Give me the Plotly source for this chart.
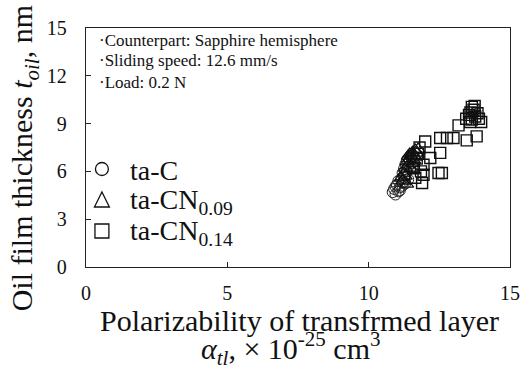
import plotly.graph_objects as go

FONT = "Liberation Serif, Times New Roman, serif"

# ta-C (circles)
tac_x = [10.85, 10.95, 11.05, 10.90, 11.10, 11.00, 11.20, 11.15, 11.05, 11.25, 11.30, 11.20,
         11.35, 11.25, 11.40, 11.30, 11.45, 11.35, 11.50, 11.10, 10.95, 11.20, 11.40, 11.30]
tac_y = [4.70, 4.55, 4.75, 4.90, 5.00, 5.15, 5.30, 5.50, 5.40, 5.60, 5.80, 5.90,
         6.00, 6.15, 6.30, 6.45, 6.60, 6.70, 6.90, 4.80, 5.05, 5.10, 5.50, 5.25]

# ta-CN0.09 (triangles)
tacn09_x = [11.15, 11.25, 11.30, 11.40, 11.35, 11.45, 11.50, 11.55, 11.60, 11.65, 11.45,
            11.60, 11.70, 11.55, 11.40, 11.75, 11.50, 11.30, 11.20, 11.35, 11.65]
tacn09_y = [5.60, 5.90, 6.20, 6.40, 6.60, 6.80, 7.00, 7.20, 7.00, 7.35, 7.10,
            6.70, 7.15, 6.50, 6.95, 7.40, 6.20, 5.70, 5.40, 5.20, 6.90]

# ta-CN0.14 (squares)
tacn14_x = [12.00, 12.53, 12.77, 13.00, 13.47, 13.82, 13.18, 13.59, 13.98, 13.71, 13.77,
            13.55, 13.65, 13.85, 13.45, 13.90, 13.60, 13.65, 13.75, 12.53, 12.18, 11.94,
            12.47, 12.59, 11.94, 11.89, 11.75, 11.80, 11.70, 11.85, 11.65, 11.60]
tacn14_y = [7.88, 8.10, 8.10, 8.10, 7.95, 8.20, 8.89, 9.10, 9.10, 9.87, 9.45,
            9.55, 9.25, 9.65, 9.30, 9.30, 9.70, 10.05, 10.10, 7.16, 6.84, 6.42,
            5.90, 5.90, 5.79, 5.27, 7.10, 7.50, 6.80, 6.00, 5.60, 6.20]

series_names = ["ta-C", "ta-CN<sub>0.09</sub>", "ta-CN<sub>0.14</sub>"]
x_ticks = [0, 5, 10, 15]
y_ticks = [0, 3, 6, 9, 12, 15]

notes = ["·Counterpart: Sapphire hemisphere", "·Sliding speed: 12.6 mm/s", "·Load: 0.2 N"]

INK = "#111111"
fig = go.Figure()
fig.add_trace(go.Scatter(x=tac_x, y=tac_y, mode="markers", name=series_names[0], showlegend=False,
                         marker=dict(symbol="circle-open", size=11, color="#222222",
                                     line=dict(width=1))))
fig.add_trace(go.Scatter(x=tacn09_x, y=tacn09_y, mode="markers", name=series_names[1], showlegend=False,
                         marker=dict(symbol="triangle-up-open", size=12, color=INK,
                                     line=dict(width=1.2))))
fig.add_trace(go.Scatter(x=tacn14_x, y=tacn14_y, mode="markers", name=series_names[2], showlegend=False,
                         marker=dict(symbol="square-open", size=11, color=INK,
                                     line=dict(width=1.4))))

W, H = 532, 369
L, R, T, B = 86, 20, 28, 102
pw = W - L - R
ph = H - T - B


def px(xp):
    return (xp - L) / pw


def py(yp):
    return (H - B - yp) / ph


for i, s in enumerate(notes):
    fig.add_annotation(text=s, xref="paper", yref="paper", x=px(97), y=py(40 + 21 * i),
                       xanchor="left", yanchor="middle", showarrow=False,
                       font=dict(family=FONT, size=17, color=INK))

# legend (manual)
leg_y = [169, 200, 231]
sx, hs = 102, 6.5
fig.add_shape(type="circle", xref="paper", yref="paper",
              x0=px(sx - hs), x1=px(sx + hs), y0=py(leg_y[0] - hs), y1=py(leg_y[0] + hs),
              line=dict(color=INK, width=1.3))
fig.add_shape(type="path", xref="paper", yref="paper",
              path=f"M {px(sx - 7.5)} {py(leg_y[1] + 7)} L {px(sx + 7.5)} {py(leg_y[1] + 7)} "
                   f"L {px(sx)} {py(leg_y[1] - 8)} Z",
              line=dict(color=INK, width=1.3))
fig.add_shape(type="rect", xref="paper", yref="paper",
              x0=px(sx - 7), x1=px(sx + 7), y0=py(leg_y[2] - 7), y1=py(leg_y[2] + 7),
              line=dict(color=INK, width=1.3))
for name, yy in zip(series_names, leg_y):
    fig.add_annotation(text=name, xref="paper", yref="paper", x=px(128), y=py(yy + 1),
                       xanchor="left", yanchor="middle", showarrow=False,
                       font=dict(family=FONT, size=28, color=INK))

fig.add_annotation(text="Polarizability of transfrmed layer", xref="paper", yref="paper",
                   x=px(98), y=py(320), xanchor="left", yanchor="middle",
                   showarrow=False, font=dict(family=FONT, size=30, color=INK))
fig.add_annotation(text="<i>α<sub>tl</sub></i>, × 10<sup>-25</sup> cm<sup>3</sup>",
                   xref="paper", yref="paper", x=px(200), y=py(348),
                   xanchor="left", yanchor="middle",
                   showarrow=False, font=dict(family=FONT, size=30, color=INK))
fig.add_annotation(text="Oil film thickness <i>t<sub>oil</sub></i>, nm",
                   xref="paper", yref="paper", textangle=-90,
                   x=px(24), y=py(158), xanchor="center", yanchor="middle",
                   showarrow=False, font=dict(family=FONT, size=30, color=INK))

fig.update_layout(
    width=W, height=H,
    margin=dict(l=L, r=R, t=T, b=B),
    plot_bgcolor="white", paper_bgcolor="white",
    font=dict(family=FONT, color=INK),
    showlegend=False,
)
fig.update_xaxes(range=[0, 15], tickvals=x_ticks, ticks="inside", ticklen=5, tickwidth=1.2,
                 tickcolor="#222222", showline=True, linecolor="#222222", linewidth=1.3,
                 mirror=True, showgrid=False, zeroline=False,
                 tickfont=dict(family=FONT, size=20), ticklabelstandoff=8)
fig.update_yaxes(range=[0, 15], tickvals=y_ticks, ticks="inside", ticklen=5, tickwidth=1.2,
                 tickcolor="#222222", showline=True, linecolor="#222222", linewidth=1.3,
                 mirror=True, showgrid=False, zeroline=False,
                 tickfont=dict(family=FONT, size=20), ticklabelstandoff=14)

fig.write_html("out.html")
